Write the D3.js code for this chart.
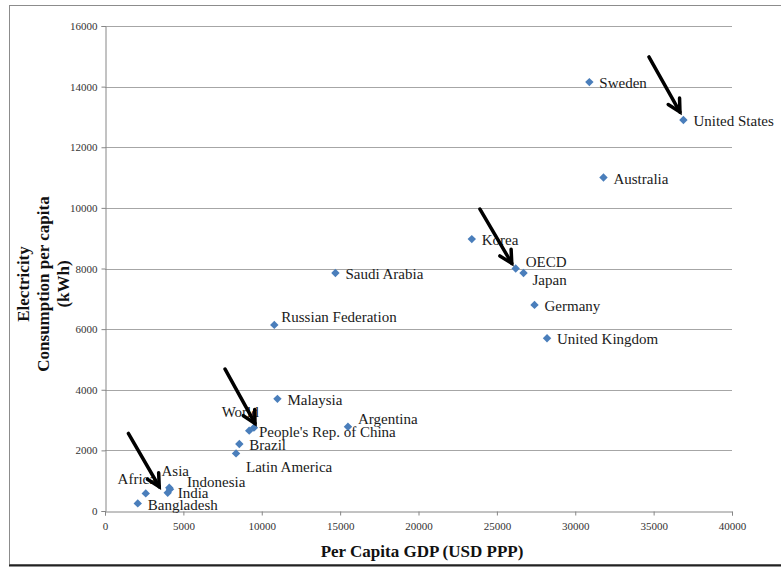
<!DOCTYPE html>
<html>
<head>
<meta charset="utf-8">
<script src="https://cdn.jsdelivr.net/npm/d3@7"></script>
<style>
  html, body { margin: 0; padding: 0; background: #fff; }
  svg { display: block; font-family: "Liberation Serif", "Times New Roman", serif; }
</style>
</head>
<body>
<svg id="chart" width="781" height="567"></svg>
<script>
// Per-capita GDP vs. electricity consumption
const regions = ["Sweden", "United States", "Australia", "Korea", "OECD", "Japan", "Germany",
  "United Kingdom", "Saudi Arabia", "Russian Federation", "Malaysia", "Argentina",
  "People's Rep. of China", "World", "Brazil", "Latin America", "Africa", "Asia",
  "Indonesia", "India", "Bangladesh"];
const gdp = [30900, 36900, 31800, 23400, 26200, 26700, 27400,
  28200, 14700, 10800, 11000, 15500,
  9500, 9200, 8570, 8360, 2600, 4100,
  4150, 4000, 2090];
const electricity = [14150, 12900, 11000, 8970, 8000, 7850, 6800,
  5700, 7850, 6140, 3700, 2780,
  2750, 2650, 2210, 1900, 580, 770,
  720, 600, 250];

const xTicks = [0, 5000, 10000, 15000, 20000, 25000, 30000, 35000, 40000];
const yTicks = [0, 2000, 4000, 6000, 8000, 10000, 12000, 14000, 16000];

// Arrow annotations, given in data units: [gdpFrom, elecFrom, gdpTo, elecTo]
const arrows = [
  [34700, 14980, 36680, 13160],
  [23920, 9960, 25950, 8170],
  [7660, 4680, 9570, 2890],
  [1490, 2560, 3460, 800]
];

// Label placement relative to each point (pixels)
const labelPlacement = {
  "OECD": { dx: 10, dy: -7 },
  "Japan": { dx: 9, dy: 7 },
  "Russian Federation": { dx: 7, dy: -8 },
  "Argentina": { dx: 10, dy: -8 },
  "People's Rep. of China": { dx: 5, dy: 4 },
  "World": { dx: -9, dy: -19, anchor: "middle" },
  "Latin America": { dx: 10, dy: 13 },
  "Africa": { dx: -9, dy: -15, anchor: "middle" },
  "Asia": { dx: 6, dy: -17, anchor: "middle" },
  "Indonesia": { dx: 17, dy: -7 },
  "India": { dx: 10, dy: 0 }
};

const svg = d3.select("#chart");
const margin = { left: 105, right: 49, top: 26, bottom: 56 };
const W = 781, H = 567;

// chart frame
svg.append("rect").attr("x", 9.5).attr("y", 5.5).attr("width", 790).attr("height", 559)
  .attr("fill", "none").attr("stroke", "#8c8c8c").attr("stroke-width", 1);
svg.append("line").attr("x1", 9).attr("x2", 781).attr("y1", 565.5).attr("y2", 565.5)
  .attr("stroke", "#222").attr("stroke-width", 2);

const x = d3.scaleLinear().domain([0, 40000]).range([margin.left, W - margin.right]);
const y = d3.scaleLinear().domain([0, 16000]).range([H - margin.bottom, margin.top]);

// horizontal gridlines
svg.append("g").selectAll("line").data(yTicks.filter(d => d > 0)).join("line")
  .attr("x1", x(0)).attr("x2", x(40000))
  .attr("y1", d => Math.round(y(d)) + 0.5).attr("y2", d => Math.round(y(d)) + 0.5)
  .attr("stroke", "#a6a6a6").attr("stroke-width", 1);

// axes
const xAxis = d3.axisBottom(x).tickValues(xTicks).tickSize(4).tickPadding(7).tickFormat(d3.format("d"));
const yAxis = d3.axisLeft(y).tickValues(yTicks).tickSize(4).tickPadding(4).tickFormat(d3.format("d"));

const gx = svg.append("g").attr("transform", `translate(0,${Math.round(y(0)) + 0.5})`).call(xAxis);
const gy = svg.append("g").attr("transform", `translate(${Math.round(x(0)) + 0.5},0)`).call(yAxis);
[gx, gy].forEach(g => {
  g.attr("font-family", null);
  g.select(".domain").attr("stroke", "#868686");
  g.selectAll(".tick line").attr("stroke", "#868686");
  g.selectAll(".tick text").attr("fill", "#333")
    .style("font-family", "'Liberation Serif', serif").style("font-size", "11px");
});

// axis titles
svg.append("text").attr("x", 422).attr("y", 557).attr("text-anchor", "middle")
  .style("font-size", "17px").style("font-weight", "bold").attr("fill", "#111")
  .text("Per Capita GDP (USD PPP)");

const yTitle = svg.append("text").attr("transform", "translate(43,284) rotate(-90)")
  .attr("text-anchor", "middle").style("font-size", "17px").style("font-weight", "bold").attr("fill", "#111");
["Electricity", "Consumption per capita", "(kWh)"].forEach((t, i) => {
  yTitle.append("tspan").attr("x", 0).attr("y", (i - 1) * 20 + 6).text(t);
});

// data points: square diamonds
const pts = regions.map((r, i) => ({ name: r, gx: gdp[i], el: electricity[i] }));
const r = 4.2;
svg.append("g").selectAll("path").data(pts).join("path")
  .attr("d", `M0,${-r}L${r},0L0,${r}L${-r},0Z`)
  .attr("transform", d => `translate(${x(d.gx)},${y(d.el)})`)
  .attr("fill", "#4a7ebb");

// data labels
svg.append("g").selectAll("text").data(pts).join("text")
  .attr("x", d => x(d.gx) + (labelPlacement[d.name] ? labelPlacement[d.name].dx : 10))
  .attr("y", d => y(d.el) + (labelPlacement[d.name] ? labelPlacement[d.name].dy : 1))
  .attr("dy", "0.35em")
  .attr("text-anchor", d => (labelPlacement[d.name] && labelPlacement[d.name].anchor) || "start")
  .style("font-size", "15px").attr("fill", "#1a1a1a")
  .text(d => d.name);

// arrows with open heads
const ag = svg.append("g").attr("stroke", "#000").attr("stroke-width", 3.5)
  .attr("stroke-linecap", "round").attr("stroke-linejoin", "miter").attr("fill", "none");
arrows.forEach(a => {
  const x1 = x(a[0]), y1 = y(a[1]), x2 = x(a[2]), y2 = y(a[3]);
  const ang = Math.atan2(y2 - y1, x2 - x1);
  const len = 14, spread = Math.PI / 6.5;
  ag.append("line").attr("x1", x1).attr("y1", y1).attr("x2", x2).attr("y2", y2);
  const p1 = [x2 - len * Math.cos(ang - spread), y2 - len * Math.sin(ang - spread)];
  const p2 = [x2 - len * Math.cos(ang + spread), y2 - len * Math.sin(ang + spread)];
  ag.append("path").attr("d", `M${p1[0]},${p1[1]}L${x2},${y2}L${p2[0]},${p2[1]}`);
});
</script>
</body>
</html>
